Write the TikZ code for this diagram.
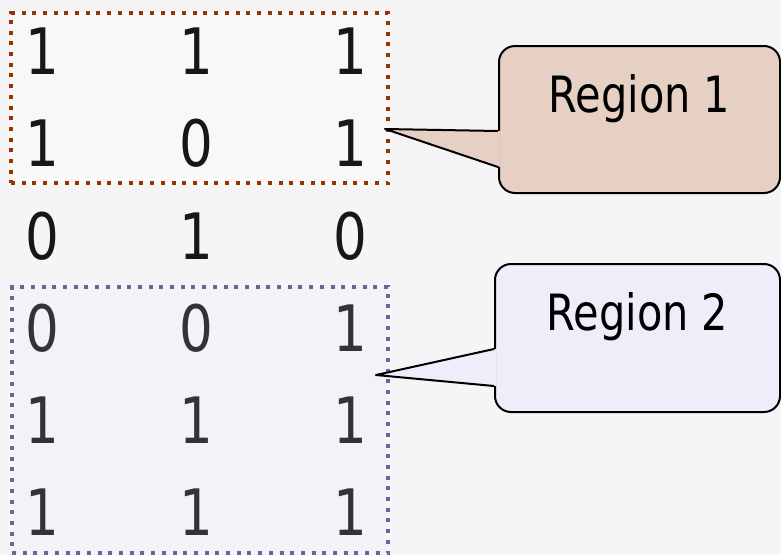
\documentclass[tikz,border=0pt]{standalone}
\usepackage{fontspec}
\setmainfont{DejaVu Sans}[FakeStretch=0.83]
\usetikzlibrary{
	positioning,
	calc,
}
\definecolor{slide}{HTML}{F5F5F7}
\definecolor{rust}{HTML}{993300}
\definecolor{slate}{HTML}{666699}
\definecolor{tanfill}{HTML}{E6CFC3}
\definecolor{lavfill}{HTML}{EEEEFA}
\definecolor{ink}{HTML}{17171A}
\definecolor{inkgray}{HTML}{323237}
\tikzset{bit/.style={
		% one digit of the grid
		inner sep=0pt,
		font=\fontsize{64}{64}\selectfont,
}}
\tikzset{region/.style={
		% The shape:
		rectangle,inner sep=0pt,
		% The border:
		line width=4pt,
		dash pattern=on 4pt off 6.7pt,
}}
\tikzset{note/.style={
		% The shape:
		rectangle,rounded corners=16pt,
		% The border:
		draw=black,line width=2pt,
		% make sure text sits high in the box
		inner sep=0pt,text height=66pt,text depth=81pt,
		font=\fontsize{50}{50}\selectfont,
}}

\begin{document}
\begin{tikzpicture}[x=1pt,y=-1pt]
	\fill[slide] (0,0) rectangle (781,555);
	\useasboundingbox (0,0) rectangle (781,555);
	% regions behind the digits
	\node[region,draw=rust,fill=white!30!slide,minimum width=377pt,minimum height=170pt] (reg1) at (199.5,98) {};
	\node[region,draw=slate,fill=lavfill!40!slide,minimum width=376pt,minimum height=266pt] (reg2) at (200,420) {};
	% the grid
	\foreach \r/\y/\a/\b/\c/\col in {1/51/1/1/1/ink,2/143/1/0/1/ink,3/236/0/1/0/ink,
		4/328/0/0/1/inkgray,5/420/1/1/1/inkgray,6/512/1/1/1/inkgray} {
		\node[bit,text=\col] (b\r1) at (42,\y) {\a};
		\node[bit,text=\col] (b\r2) at (196,\y) {\b};
		\node[bit,text=\col] (b\r3) at (350,\y) {\c};
	}
	% callouts
	\node[note,fill=tanfill,minimum width=281pt,minimum height=147pt] (note1) at (639.5,119.5) {Region 1};
	\node[note,fill=lavfill,minimum width=285pt,minimum height=148pt,text depth=82pt] (note2) at (637.5,338) {Region 2};
	\coordinate (tip1) at (385,129);
	\coordinate (tip2) at (376,375);
	\coordinate (n1a) at ($(note1.west)+(0,11.5)$);
	\coordinate (n1b) at ($(note1.west)+(0,47.5)$);
	\coordinate (n2a) at ($(note2.west)+(0,11)$);
	\coordinate (n2b) at ($(note2.west)+(0,48)$);
	\fill[tanfill] (tip1) -- ($(n1a)+(2.5,0)$) -- ($(n1b)+(2.5,0)$) -- cycle;
	\draw[line width=2pt,line join=round] (n1a) -- (tip1) -- (n1b);
	\fill[lavfill] (tip2) -- ($(n2a)+(2.5,0)$) -- ($(n2b)+(2.5,0)$) -- cycle;
	\draw[line width=2pt,line join=round] (n2a) -- (tip2) -- (n2b);
\end{tikzpicture}
\end{document}
